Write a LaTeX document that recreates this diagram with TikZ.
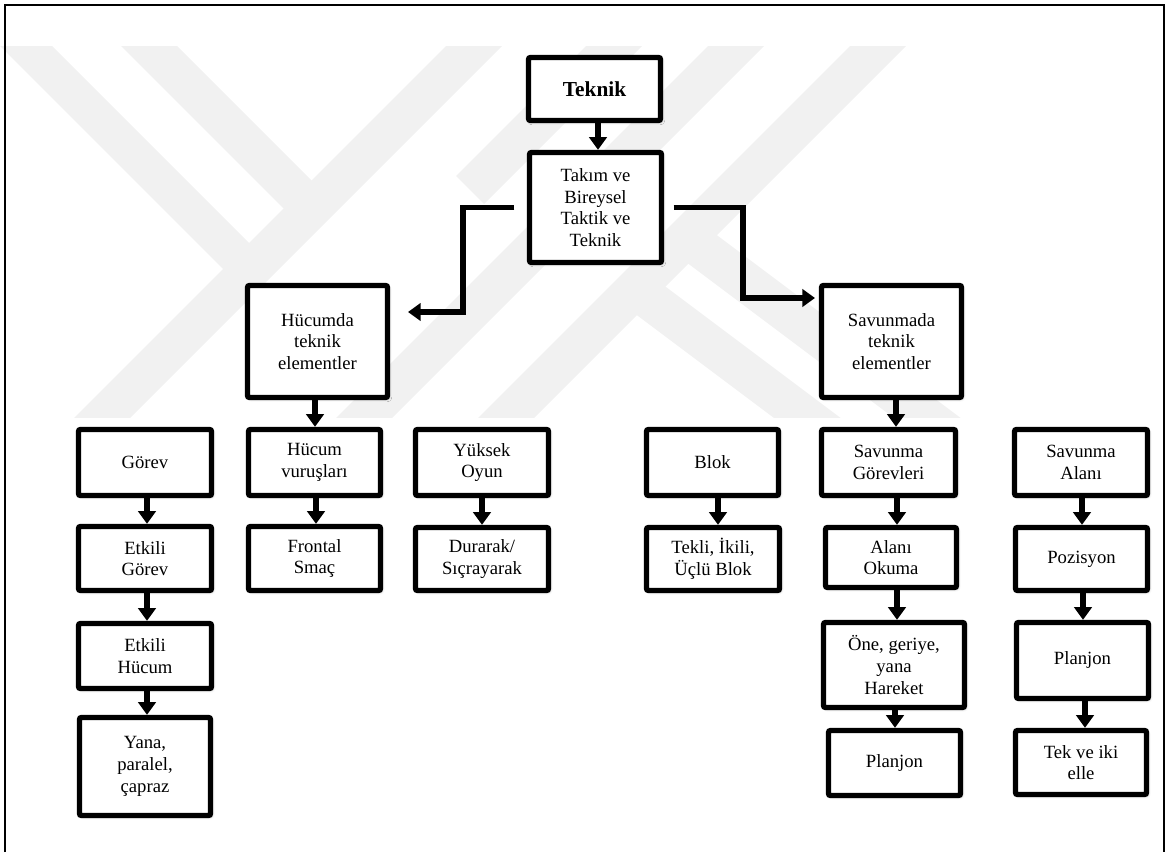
\documentclass[tikz,border=0pt]{standalone}
\usepackage{fontspec}
\setmainfont{Liberation Serif}
\usetikzlibrary{arrows.meta,shadows.blur,calc}
\definecolor{wm}{gray}{0.945}
\newcommand\varr[3]{\draw[arr] (#1.south -| #3,0) -- (#2.north -| #3,0);}
\begin{document}
\begin{tikzpicture}[x=0.75pt,y=-0.75pt,
  box/.style={draw=black, line width=4pt, fill=white, rounded corners=1.5pt,
    align=center, inner sep=0pt, font=\fontsize{14}{16.3}\selectfont,
    blur shadow={shadow xshift=1.2pt, shadow yshift=-1.2pt, shadow blur radius=2pt, shadow opacity=25}},
  mw/.style={minimum width=#1*0.75pt},
  mh/.style={minimum height=#1*0.75pt},
  arr/.style={line width=3.9pt, -{Triangle[width=13pt,length=9.5pt]}}]
\useasboundingbox (0,0) rectangle (1169,852);
% watermark
\begin{scope}
\clip (0,47) rectangle (1169,417);
\fill[wm] (492,0) -- (548,0) -- (78,470) -- (22,470) -- cycle;
\fill[wm] (75,0) -- (131,0) -- (325.5,194.5) -- (297.5,222.5) -- cycle;
\fill[wm] (-46,0) -- (6,0) -- (263,257) -- (237,283) -- cycle;
\fill[wm] (632,0) -- (688,0) -- (484,204) -- (456,176) -- cycle;
\fill[wm] (754,0) -- (810,0) -- (340,470) -- (284,470) -- cycle;
\fill[wm] (896,0) -- (952,0) -- (482,470) -- (426,470) -- cycle;
\fill[wm] (618,301) -- (642,269) -- (898,461) -- (874,493) -- cycle;
\fill[wm] (678,256) -- (702,224) -- (1022,464) -- (998,496) -- cycle;
\end{scope}
% outer frame
\draw[line width=1.5pt] (5,852) -- (5,5) -- (1164,5) -- (1164,852);
% nodes
\node[box,mw=132,mh=63,font=\fontsize{16}{18}\selectfont\bfseries] (teknik) at (594.5,89) {Teknik};
\node[box,mw=132,mh=110] (takim) at (595.5,207.5) {Takım ve\\Bireysel\\Taktik ve\\Teknik};
\node[box,mw=140,mh=112] (hucumda) at (317.5,341.5) {Hücumda\\teknik\\elementler};
\node[box,mw=140,mh=112] (savunmada) at (891.5,341.5) {Savunmada\\teknik\\elementler};
% row 2
\node[box,mw=133,mh=66] (gorev) at (145,462.5) {Görev};
\node[box,mw=132,mh=66] (hvurus) at (314.5,462.5) {Hücum\\vuruşları};
\node[box,mw=133,mh=66] (yuksek) at (482,462.5) {Yüksek\\Oyun};
\node[box,mw=132,mh=66] (blok) at (712.5,462.5) {Blok};
\node[box,mw=134,mh=66] (savgor) at (888.5,462.5) {Savunma\\Görevleri};
\node[box,mw=133,mh=66] (savalan) at (1081,462.5) {Savunma\\Alanı};
% row 3
\node[box,mw=133,mh=64] (etkgorev) at (145,558.5) {Etkili\\Görev};
\node[box,mw=132,mh=64] (frontal) at (314.5,558.5) {Frontal\\Smaç};
\node[box,mw=133,mh=63] (durarak) at (482,559) {Durarak/\\Sıçrayarak};
\node[box,mw=133,mh=63] (tekli) at (713,559) {Tekli, İkili,\\Üçlü Blok};
\node[box,mw=131,mh=60] (alani) at (891,557.5) {Alanı\\Okuma};
\node[box,mw=132,mh=63] (pozisyon) at (1081.5,559) {Pozisyon};
% row 4
\node[box,mw=133,mh=65] (etkhucum) at (145,656) {Etkili\\Hücum};
\node[box,mw=141,mh=85] (one) at (894,665) {Öne, geriye,\\yana\\Hareket};
\node[box,mw=132,mh=76] (planjona) at (1082.5,660.5) {Planjon};
% row 5
\node[box,mw=131,mh=98] (yana) at (145,766.5) {Yana,\\paralel,\\çapraz};
\node[box,mw=132,mh=65] (planjonb) at (894.5,763) {Planjon};
\node[box,mw=131,mh=64] (tekiki) at (1081,762.5) {Tek ve iki\\elle};
% connectors
\varr{teknik}{takim}{598}
\draw[arr] ($(takim.west)+(-12.5,0)$) -| (463,312) -- (408,312);
\draw[arr] ($(takim.east)+(9.5,0)$) -| (743,298) -- (815,298);
\varr{hucumda}{hvurus}{315}
\varr{hvurus}{frontal}{316}
\varr{yuksek}{durarak}{482}
\varr{gorev}{etkgorev}{147}
\varr{etkgorev}{etkhucum}{147}
\varr{etkhucum}{yana}{147}
\varr{blok}{tekli}{718}
\varr{savunmada}{savgor}{896}
\varr{savgor}{alani}{897}
\varr{alani}{one}{897}
\varr{one}{planjonb}{895}
\varr{savalan}{pozisyon}{1082}
\varr{pozisyon}{planjona}{1083}
\varr{planjona}{tekiki}{1085}
\end{tikzpicture}
\end{document}
